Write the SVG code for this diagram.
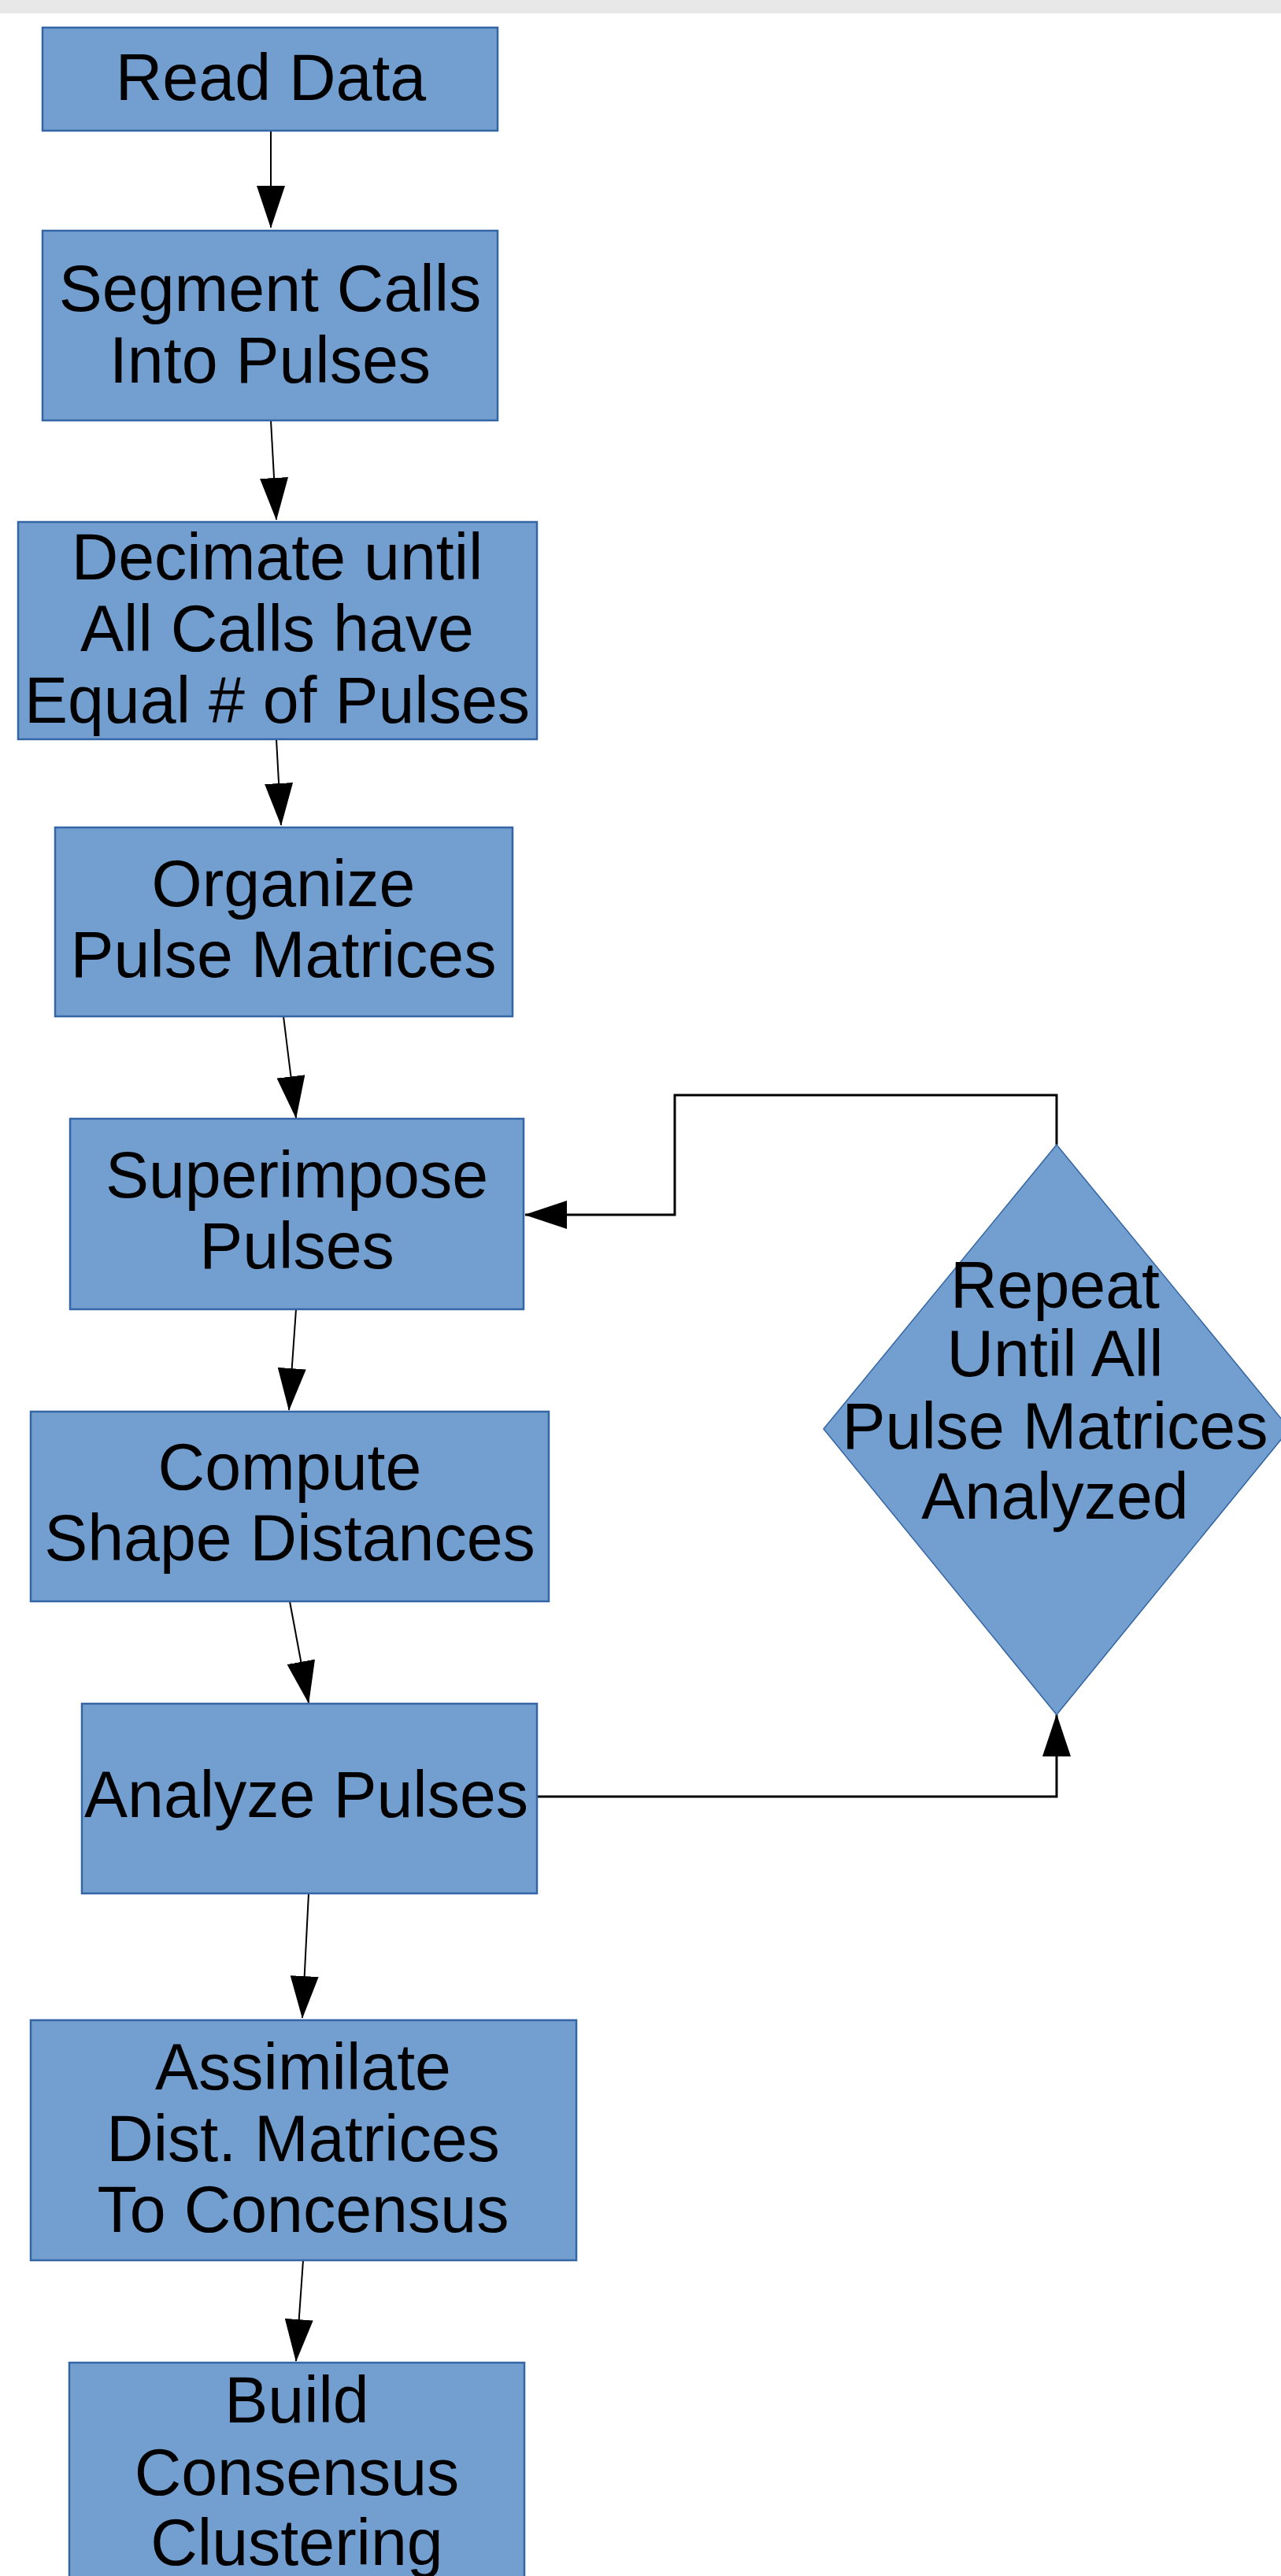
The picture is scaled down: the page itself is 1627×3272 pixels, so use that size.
<svg xmlns="http://www.w3.org/2000/svg" width="1627" height="3272" viewBox="0 0 1627 3272">
  <style>
    .box { fill: #729fcf; stroke: #3465a4; stroke-width: 2.5; }
    .dec { fill: #729fcf; stroke: #3465a4; stroke-width: 1.5; }
    .lbl { font-family: "Liberation Sans", Arial, sans-serif; font-size: 82.5px; fill: #000; text-anchor: middle; }
    .edge { fill: none; stroke: #000; stroke-width: 2; }
    .loop { fill: none; stroke: #000; stroke-width: 3; }
  </style>
  <defs>
    <marker id="arrow" markerUnits="userSpaceOnUse" viewBox="0 0 54 36" markerWidth="54" markerHeight="36" refX="53" refY="18" orient="auto">
      <path d="M0,0 L54,18 L0,36 Z" fill="#000"/>
    </marker>
  </defs>

  <rect x="0" y="0" width="1627" height="3272" fill="#ffffff"/>
  <rect x="0" y="0" width="1627" height="17" fill="#e8e8e8"/>

  <!-- connectors -->
  <g id="connectors">
    <line class="edge" x1="344" y1="166" x2="344" y2="289" marker-end="url(#arrow)"/>
    <line class="edge" x1="344" y1="534" x2="351" y2="660" marker-end="url(#arrow)"/>
    <line class="edge" x1="351" y1="939" x2="357" y2="1048" marker-end="url(#arrow)"/>
    <line class="edge" x1="360" y1="1291" x2="376" y2="1420" marker-end="url(#arrow)"/>
    <line class="edge" x1="376" y1="1663" x2="367" y2="1791" marker-end="url(#arrow)"/>
    <line class="edge" x1="368" y1="2034" x2="392" y2="2163" marker-end="url(#arrow)"/>
    <line class="edge" x1="392" y1="2405" x2="384" y2="2563" marker-end="url(#arrow)"/>
    <line class="edge" x1="385" y1="2871" x2="376" y2="2999" marker-end="url(#arrow)"/>
    <polyline class="loop" points="1342,1454 1342,1391 857,1391 857,1543 667,1543" marker-end="url(#arrow)"/>
    <polyline class="loop" points="682,2282 1342,2282 1342,2178" marker-end="url(#arrow)"/>
  </g>

  <g id="read-data">
    <rect class="box" x="54" y="35" width="578" height="131"/>
    <text class="lbl" x="344" y="127">Read Data</text>
  </g>

  <g id="segment-calls">
    <rect class="box" x="54" y="293" width="578" height="241"/>
    <text class="lbl" x="343" y="395">Segment Calls</text>
    <text class="lbl" x="343" y="486">Into Pulses</text>
  </g>

  <g id="decimate">
    <rect class="box" x="23" y="663" width="659" height="276"/>
    <text class="lbl" x="352" y="736">Decimate until</text>
    <text class="lbl" x="352" y="827">All Calls have</text>
    <text class="lbl" x="352" y="918">Equal # of Pulses</text>
  </g>

  <g id="organize">
    <rect class="box" x="70" y="1051" width="581" height="240"/>
    <text class="lbl" x="360" y="1151">Organize</text>
    <text class="lbl" x="360" y="1241">Pulse Matrices</text>
  </g>

  <g id="superimpose">
    <rect class="box" x="89" y="1421" width="576" height="242"/>
    <text class="lbl" x="377" y="1521">Superimpose</text>
    <text class="lbl" x="377" y="1611">Pulses</text>
  </g>

  <g id="compute-distances">
    <rect class="box" x="39" y="1793" width="658" height="241"/>
    <text class="lbl" x="368" y="1892">Compute</text>
    <text class="lbl" x="368" y="1982">Shape Distances</text>
  </g>

  <g id="analyze-pulses">
    <rect class="box" x="104" y="2164" width="578" height="241"/>
    <text class="lbl" x="389" y="2308">Analyze Pulses</text>
  </g>

  <g id="assimilate">
    <rect class="box" x="39" y="2566" width="693" height="305"/>
    <text class="lbl" x="385" y="2654">Assimilate</text>
    <text class="lbl" x="385" y="2745">Dist. Matrices</text>
    <text class="lbl" x="385" y="2835">To Concensus</text>
  </g>

  <g id="build-clustering">
    <rect class="box" x="88" y="3001" width="578" height="300"/>
    <text class="lbl" x="377" y="3077">Build</text>
    <text class="lbl" x="377" y="3169">Consensus</text>
    <text class="lbl" x="377" y="3258">Clustering</text>
  </g>

  <g id="repeat-decision">
    <polygon class="dec" points="1342,1454 1638,1815 1342,2178 1046,1815"/>
    <text class="lbl" x="1340" y="1661">Repeat</text>
    <text class="lbl" x="1340" y="1748">Until All</text>
    <text class="lbl" x="1340" y="1840">Pulse Matrices</text>
    <text class="lbl" x="1340" y="1929">Analyzed</text>
  </g>
</svg>
